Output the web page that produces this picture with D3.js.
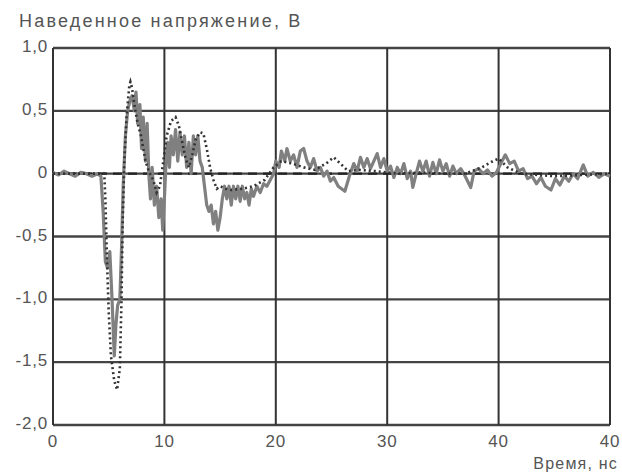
<!DOCTYPE html>
<html>
<head>
<meta charset="utf-8">
<script src="https://cdn.jsdelivr.net/npm/d3@7"></script>
<style>
  body { margin: 0; background: #fff; }
  text { font-family: "Liberation Sans", Arial, sans-serif; fill: #555; }
</style>
</head>
<body>
<div id="chart"></div>
<script>
// x ticks (the last label reads "40" in the original too)
const xTicks = [0, 10, 20, 30, 40, 50];
const xTickLabels = ["0", "10", "20", "30", "40", "40"];
const yTicks = [1, 0.5, 0, -0.5, -1, -1.5, -2];
const yTickLabels = ["1,0", "0,5", "0", "-0,5", "-1,0", "-1,5", "-2,0"];

// measured voltage (solid gray), [time ns, volts]
const measured = [
  [0, 0.01], [0.5, -0.01], [1, 0.02], [1.5, 0], [2, -0.02], [2.5, 0.01], [3, 0], [3.5, -0.02],
  [4, 0.0], [4.3, -0.02], [4.5, -0.3], [4.7, -0.7], [4.9, -0.75], [5.1, -0.62], [5.3, -1.0],
  [5.5, -1.45], [5.65, -1.2], [5.8, -1.05], [6.0, -1.0], [6.15, -0.6], [6.3, -0.1], [6.5, 0.3],
  [6.7, 0.5], [6.9, 0.58], [7.1, 0.62], [7.3, 0.5], [7.45, 0.65], [7.6, 0.4], [7.8, 0.55],
  [7.95, 0.2], [8.1, 0.45], [8.3, 0.1], [8.45, 0.4], [8.6, 0.0], [8.75, -0.2], [8.9, 0.05],
  [9.1, -0.25], [9.3, -0.1], [9.5, -0.35], [9.7, -0.2], [9.85, -0.45], [10.0, -0.2], [10.15, 0.1],
  [10.3, 0.25], [10.45, 0.05], [10.6, 0.3], [10.8, 0.15], [11.0, 0.35], [11.2, 0.1], [11.4, 0.33],
  [11.6, 0.15], [11.8, 0.3], [12.0, 0.05], [12.2, 0.25], [12.4, 0.0], [12.6, 0.3], [12.8, 0.15],
  [13.0, 0.3], [13.2, 0.1], [13.4, 0.05], [13.6, -0.1], [13.8, -0.25], [14.0, -0.3], [14.2, -0.25],
  [14.4, -0.4], [14.6, -0.3], [14.8, -0.45], [15.0, -0.35], [15.2, -0.2], [15.4, -0.1], [15.6, -0.2],
  [15.8, -0.1], [16.0, -0.25], [16.2, -0.1], [16.4, -0.2], [16.6, -0.1], [16.8, -0.22], [17.0, -0.1],
  [17.2, -0.2], [17.4, -0.15], [17.6, -0.25], [17.8, -0.12], [18.0, -0.18], [18.3, -0.1], [18.6, -0.15],
  [18.9, -0.08], [19.2, -0.1], [19.5, -0.05], [19.8, 0.0], [20.0, 0.1], [20.3, 0.05], [20.5, 0.18],
  [20.8, 0.1], [21.0, 0.2], [21.3, 0.1], [21.6, 0.15], [21.9, 0.05], [22.2, 0.18], [22.5, 0.2],
  [22.8, 0.1], [23.1, 0.05], [23.4, 0.12], [23.7, 0.02], [24.0, 0.05], [24.3, -0.02], [24.6, 0.02],
  [24.9, -0.06], [25.2, -0.03], [25.6, -0.1], [26.2, -0.14], [26.6, -0.02], [27.0, 0.08], [27.3, 0.02],
  [27.6, 0.13], [27.9, 0.05], [28.2, 0.12], [28.5, 0.04], [28.8, 0.1], [29.1, 0.16], [29.4, 0.05],
  [29.7, 0.12], [30.0, 0.02], [30.3, 0.06], [30.6, -0.03], [30.9, 0.05], [31.2, 0.0], [31.5, 0.08],
  [31.8, -0.04], [32.1, 0.02], [32.3, -0.11], [32.6, 0.0], [32.9, 0.1], [33.2, 0.02], [33.5, 0.1],
  [33.8, -0.02], [34.1, 0.09], [34.4, 0.0], [34.7, 0.11], [35.0, 0.02], [35.3, 0.08], [35.6, -0.02],
  [35.9, 0.06], [36.2, 0.0], [36.6, 0.04], [37.0, -0.02], [37.5, -0.11], [37.8, 0.02], [38.2, 0.04],
  [38.6, 0.0], [39.0, 0.03], [39.4, -0.02], [39.8, 0.01], [40.2, 0.08], [40.6, 0.15], [41.0, 0.08],
  [41.4, 0.1], [41.8, 0.02], [42.2, 0.04], [42.6, -0.04], [43.0, -0.02], [43.4, -0.08], [43.8, -0.03],
  [44.2, -0.1], [44.7, -0.13], [45.1, -0.04], [45.5, -0.09], [45.9, -0.02], [46.3, -0.06], [46.7, 0.0],
  [47.1, -0.04], [47.6, 0.07], [48.0, -0.02], [48.5, 0.01], [49.0, -0.03], [49.5, 0.0], [50, -0.02]
];

// simulated voltage (dotted)
const simulated = [
  [0, 0], [4.6, 0], [4.7, -0.2], [4.85, -0.7], [5.0, -1.1], [5.2, -1.45], [5.5, -1.65], [5.75, -1.72],
  [6.0, -1.55], [6.15, -1.0], [6.25, -0.4], [6.4, 0.1], [6.6, 0.45], [6.85, 0.7], [6.95, 0.73], [7.1, 0.68],
  [7.3, 0.55], [7.6, 0.4], [7.9, 0.3], [8.1, 0.2], [8.3, 0.1], [8.6, 0.02], [9.0, -0.05],
  [9.3, -0.15], [9.6, -0.1], [9.9, 0.1], [10.2, 0.3], [10.6, 0.42], [11.0, 0.45], [11.3, 0.38],
  [11.6, 0.25], [11.9, 0.12], [12.2, 0.05], [12.5, 0.15], [12.8, 0.27], [13.2, 0.33], [13.5, 0.32],
  [13.8, 0.2], [14.1, 0.05], [14.4, -0.05], [14.7, -0.12], [15.0, -0.1], [15.5, -0.12], [16, -0.13],
  [17, -0.12], [18, -0.1], [19, -0.05], [19.8, 0.05], [20.5, 0.1], [21.5, 0.08], [22.5, 0.05],
  [23.5, 0.03], [24.5, 0.08], [25.2, 0.13], [25.8, 0.08], [26.5, 0.02], [27.5, 0.03], [29, 0.02],
  [31, 0.0], [33, 0.01], [35, 0.0], [37, 0.0], [38.5, 0.05], [39.5, 0.1], [40, 0.12], [40.8, 0.05],
  [42, 0.0], [45, -0.02], [50, 0]
];

// third line (dashed), stays at zero
const dashed = [[0, 0], [50, 0]];

const width = 622, height = 475;
const margin = { top: 48, right: 12, bottom: 50, left: 53 };

const svg = d3.select("#chart").append("svg")
  .attr("width", width).attr("height", height);

const x = d3.scaleLinear().domain([0, 50]).range([margin.left, width - margin.right]);
const y = d3.scaleLinear().domain([-2, 1]).range([height - margin.bottom, margin.top]);

// grid
svg.append("g").selectAll("line").data(yTicks).join("line")
  .attr("x1", x(0)).attr("x2", x(50))
  .attr("y1", d => y(d)).attr("y2", d => y(d))
  .attr("stroke", "#444").attr("stroke-width", 2.4);
svg.append("g").selectAll("line").data(xTicks).join("line")
  .attr("x1", d => x(d)).attr("x2", d => x(d))
  .attr("y1", y(1)).attr("y2", y(-2))
  .attr("stroke", "#333").attr("stroke-width", 2);

const line = d3.line().x(d => x(d[0])).y(d => y(d[1]));

svg.append("path").datum(dashed).attr("d", line)
  .attr("fill", "none").attr("stroke", "#222").attr("stroke-width", 2.2)
  .attr("stroke-dasharray", "9,6");

svg.append("path").datum(measured).attr("d", line)
  .attr("fill", "none").attr("stroke", "#808080").attr("stroke-width", 3.2)
  .attr("stroke-linejoin", "round");

svg.append("path").datum(simulated).attr("d", line)
  .attr("fill", "none").attr("stroke", "#333").attr("stroke-width", 2.6)
  .attr("stroke-dasharray", "2,3");

// tick labels
svg.append("g").selectAll("text").data(yTicks).join("text")
  .attr("x", margin.left - 5).attr("y", d => y(d) + 4)
  .attr("text-anchor", "end").attr("font-size", 17).attr("letter-spacing", 0.8)
  .text((d, i) => yTickLabels[i]);

svg.append("g").selectAll("text").data(xTicks).join("text")
  .attr("x", d => x(d)).attr("y", y(-2) + 22)
  .attr("text-anchor", "middle").attr("font-size", 17).attr("letter-spacing", 0.8)
  .text((d, i) => xTickLabels[i]);

svg.append("text").attr("x", 19).attr("y", 27)
  .attr("font-size", 18).attr("letter-spacing", 2.2)
  .text("Наведенное напряжение, В");

svg.append("text").attr("x", 618).attr("y", 469)
  .attr("text-anchor", "end").attr("font-size", 16).attr("letter-spacing", 1.2)
  .text("Время, нс");
</script>
</body>
</html>
